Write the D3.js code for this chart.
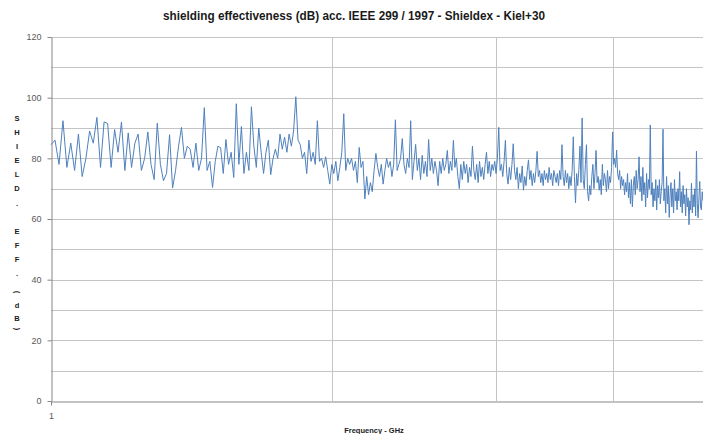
<!DOCTYPE html>
<html>
<head>
<meta charset="utf-8">
<script src="https://d3js.org/d3.v7.min.js"></script>
<style>
  body { margin: 0; background: #fff; }
  .title { font-family: "Liberation Sans Narrow", "Liberation Sans", sans-serif; font-weight: bold; font-size: 13px; fill: #1a1a1a; }
  .tick text { font-family: "Liberation Sans", sans-serif; font-size: 9px; fill: #595959; }
  .axis-title { font-family: "Liberation Sans", sans-serif; font-weight: bold; font-size: 7.5px; fill: #1a1a1a; }
</style>
</head>
<body>
<div id="container"></div>
<script>
// measurement sampled every 10 MHz, one array per GHz band
const bandStart = [1, 2, 3, 4];
const freqStep = 0.01;

const band1 = [
  84.5, 86, 78, 92.4, 77, 85, 76, 88, 74, 80,
  89, 85, 93.5, 77, 92, 91.5, 77, 89.5, 82, 92,
  76, 88.4, 77, 85, 88, 76, 80, 88.7, 78, 73,
  91.6, 78, 72.6, 75, 87.8, 70.2, 76, 84, 90.2, 80,
  84, 83, 77, 85, 76, 80, 96.7, 76, 79, 70.4,
  79, 84, 83.5, 75, 86.2, 78, 82, 73.7, 98, 78,
  90.5, 75, 82, 76, 97, 84, 77, 90, 82, 75,
  82, 86, 74.6, 80, 83, 80, 88, 83, 87, 82,
  88, 84, 89, 100.3, 86, 84.5, 80, 82, 75, 86,
  79, 82, 78, 92.4, 79, 80, 77, 80.5, 76, 71.5
];
const band2 = [
  78, 75, 79, 72.6, 77, 82, 94.7, 76, 80, 78,
  80, 76, 79, 72, 83.6, 77, 79, 66.6, 74, 68,
  72, 69, 76, 81.6, 77, 74, 78, 71.5, 76, 80,
  77, 79, 74, 78, 92.7, 76, 78, 80, 86.5, 78,
  75, 80, 77, 92.4, 73, 79, 84.6, 76, 80, 73,
  81, 75, 79, 74, 86.2, 76, 80, 75, 79, 76,
  71, 79, 75, 80, 76, 78, 82.6, 75, 79, 76,
  85.9, 77, 80, 74, 70, 78, 73, 79, 75, 78,
  72, 77, 74, 84, 76, 73, 78, 72, 79, 74,
  77, 73, 78, 82, 75, 79, 74, 78, 76, 79
];
const band3 = [
  75, 80, 90.2, 76, 78, 74, 79, 85.9, 75, 71.5,
  77, 73, 78, 84.8, 76, 73, 77, 70, 75, 72,
  77.5, 69.5, 74, 71, 76, 79.5, 73, 76, 71, 75,
  72, 76, 82.3, 74, 76, 72, 75, 71, 76, 73,
  75, 72, 77, 73, 75, 71, 76, 74, 72, 75,
  71, 76, 73, 84.5, 74, 71, 76, 72, 75, 70,
  74, 71, 76, 87.1, 74, 65.3, 75, 71, 76, 84,
  72, 93.3, 73, 70, 78, 84.5, 69, 66, 71, 68,
  74, 78, 70, 75, 82.6, 72, 74, 69.5, 73, 68,
  78, 71, 75, 73, 69, 76, 70, 74, 72, 77
];
const band4 = [
  88.7, 78, 80, 77, 82.7, 75, 73, 76, 70, 74,
  71, 73, 68, 72, 69, 75, 67, 72, 65, 73,
  64, 71, 74, 68, 76, 70, 73, 80.5, 69, 74,
  66, 77, 68, 72, 64, 75, 67, 73, 70, 91,
  68, 72, 64, 70, 66, 73, 63, 71, 67, 73,
  65, 69, 72, 89.6, 66, 70, 62, 74, 65, 71,
  60.5, 68, 72, 64, 70, 62, 73, 66, 69, 63,
  70, 66, 75.6, 64, 69, 62, 71, 65, 68, 61,
  70, 64, 67, 58.1, 66, 63, 71.8, 62, 68, 64,
  70, 61, 82.4, 65, 60.4, 67, 72.4, 64, 63, 69,
  66
];

const yTicks = [0, 20, 40, 60, 80, 100, 120];
const yGrid = [10, 20, 30, 40, 50, 60, 70, 80, 90, 100, 110, 120];
const xGrid = [2, 3, 4, 5];
const xTickLabels = [1];
const yTitleChars = ["S", "H", "I", "E", "L", "D", ".", "E", "F", "F", ".", "(", "d", "B", ")"];
const yTitlePos = [118, 132, 146, 160, 174, 188, 203, 231, 245, 259, 273, 292, 305, 318, 329];

var margin = {top: 37, right: 0, bottom: 33, left: 51},
    width = 703 - margin.left - margin.right,
    height = 434 - margin.top - margin.bottom;

const root = d3.select("#container")
  .append("svg")
    .attr("width", 703)
    .attr("height", 434);

const svg = root.append("g")
    .attr("transform", "translate(" + margin.left + "," + margin.top + ")");

const x = d3.scaleLog().domain([1, 5]).range([0, width]);
const y = d3.scaleLinear().domain([0, 120]).range([height, 0]);

// flatten bands into points
const data = [];
[band1, band2, band3, band4].forEach((vals, b) => {
  vals.forEach((v, i) => data.push({f: bandStart[b] + i * freqStep, v: v}));
});

// gridlines
svg.selectAll(".hgrid")
  .data(yGrid)
  .enter()
  .append("line")
  .attr("x1", 0)
  .attr("x2", width)
  .attr("y1", d => Math.round(y(d)) + 0.5)
  .attr("y2", d => Math.round(y(d)) + 0.5)
  .attr("stroke", "#c4c4c4")
  .attr("stroke-width", 1);

svg.selectAll(".vgrid")
  .data(xGrid)
  .enter()
  .append("line")
  .attr("x1", d => Math.round(x(d)) + 0.5)
  .attr("x2", d => Math.round(x(d)) + 0.5)
  .attr("y1", 0)
  .attr("y2", height)
  .attr("stroke", "#c4c4c4")
  .attr("stroke-width", 1);

// y axis
const yAxis = svg.append("g")
  .attr("transform", "translate(0.5,0)")
  .call(d3.axisLeft(y).tickValues(yTicks).tickSize(4).tickSizeOuter(0).tickPadding(6));
yAxis.select(".domain").attr("stroke", "#868686");
yAxis.selectAll(".tick line").attr("stroke", "#868686");

// x axis
const xAxis = svg.append("g")
  .attr("transform", "translate(0," + (height + 0.5) + ")")
  .call(d3.axisBottom(x).tickValues(xTickLabels).tickFormat(d3.format("d")).tickSize(4).tickSizeOuter(0).tickPadding(7));
xAxis.select(".domain").attr("stroke", "#868686");
xAxis.selectAll(".tick line").attr("stroke", "#868686");

// the measured line
svg.append("path")
  .datum(data)
  .attr("fill", "none")
  .attr("stroke", "#4f81bd")
  .attr("stroke-width", 1)
  .attr("stroke-linejoin", "round")
  .attr("d", d3.line().x(d => x(d.f)).y(d => y(d.v)));

// titles
root.append("text")
  .attr("class", "title")
  .attr("x", 354)
  .attr("y", 20)
  .attr("text-anchor", "middle")
  .attr("textLength", 382)
  .attr("lengthAdjust", "spacingAndGlyphs")
  .text("shielding effectiveness (dB) acc. IEEE 299 / 1997 - Shieldex - Kiel+30");

root.append("text")
  .attr("class", "axis-title")
  .attr("x", 374)
  .attr("y", 433)
  .attr("text-anchor", "middle")
  .text("Frequency - GHz");

root.selectAll(".ychar")
  .data(yTitleChars)
  .enter()
  .append("text")
  .attr("class", "axis-title")
  .attr("text-anchor", "middle")
  .attr("dominant-baseline", "central")
  .attr("transform", (d, i) => "translate(17," + yTitlePos[i] + ")" + (d === "(" || d === ")" ? " rotate(90)" : ""))
  .text(d => d);
</script>
</body>
</html>
